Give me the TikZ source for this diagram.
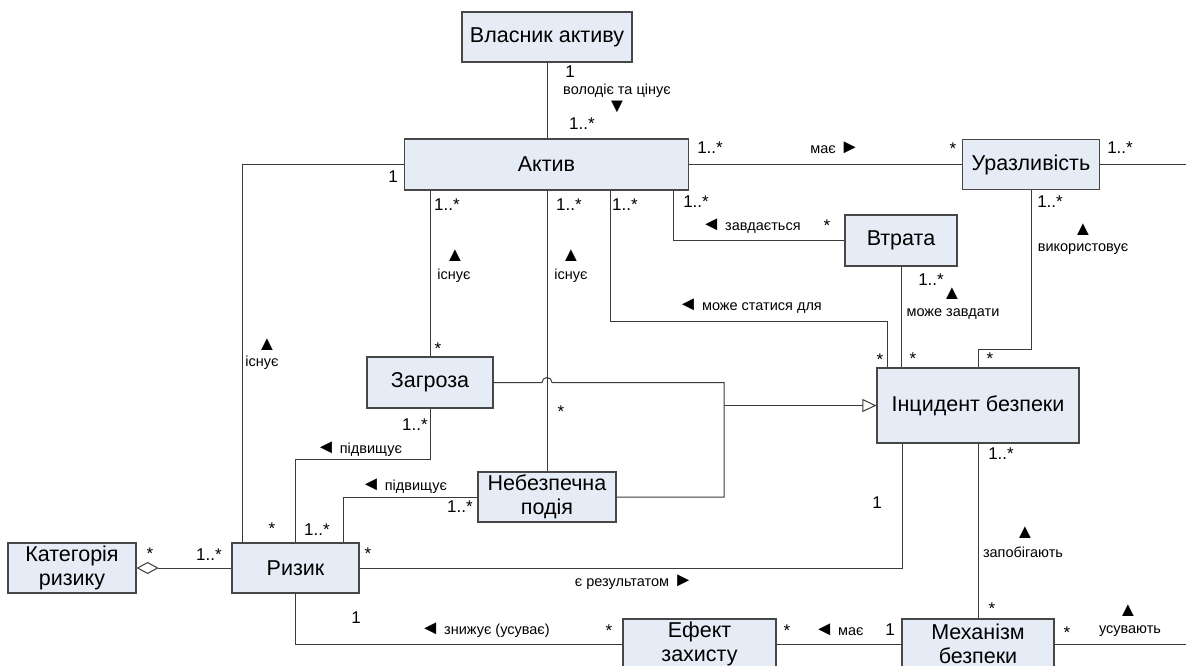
\documentclass[tikz,border=0pt]{standalone}
\usepackage{fontspec}
\setmainfont{Liberation Sans}
\usetikzlibrary{arrows.meta}
\definecolor{boxfill}{HTML}{E6ECF6}
\definecolor{boxline}{HTML}{474747}
\definecolor{wirecol}{HTML}{3A3A3A}
% reading-direction triangles, a little larger than the label text
\newcommand{\trimark}[1]{{\fontsize{20}{16}\selectfont #1}}
\begin{document}
\begin{tikzpicture}[x=1pt,y=-1pt,
  cls/.style={draw=boxline,fill=boxfill,line width=1.2pt,inner sep=0pt,align=center,
              font=\fontsize{21.5}{24}\selectfont},
  mult/.style={font=\fontsize{17}{19}\selectfont,inner sep=0pt},
  role/.style={font=\fontsize{14.5}{16}\selectfont,inner sep=0pt},
  wire/.style={draw=wirecol,line width=1pt}]
\useasboundingbox (0,0) rectangle (1186,666);

% classes
\node[cls,minimum width=170pt,minimum height=50pt] (owner) at (547,37) {Власник активу};
\node[cls,minimum width=284pt,minimum height=51pt] (asset) at (546.5,164.5) {Актив};
\node[cls,minimum width=137pt,minimum height=50pt] (vuln) at (1031,164.5) {Уразливість};
\node[cls,minimum width=112pt,minimum height=51pt] (loss) at (901,240.5) {Втрата};
\node[cls,minimum width=126pt,minimum height=51pt] (threat) at (430,382.5) {Загроза};
\node[cls,minimum width=138pt,minimum height=50pt] (event) at (547,497) {Небезпечна\\подія};
\node[cls,minimum width=202pt,minimum height=75pt] (incident) at (978,405.5) {Інцидент безпеки};
\node[cls,minimum width=128pt,minimum height=50pt] (cat) at (72,568) {Категорія\\ризику};
\node[cls,minimum width=127pt,minimum height=50pt] (risk) at (295.5,568) {Ризик};
\node[cls,minimum width=153pt,minimum height=50pt] (effect) at (699.5,644) {Ефект\\захисту};
\node[cls,minimum width=152pt,minimum height=50pt] (mech) at (978,644) {Механізм\\безпеки};

% loose ends running off to the right
\coordinate (vulnout) at (1186,164.5);
\coordinate (mechout) at (1186,644);
% joint of the generalisation
\coordinate (gen) at (724,405.5);

% associations
\draw[wire] (owner.south) -- (owner.south |- asset.north);
\draw[wire] (asset.east) -- (vuln.west);
\draw[wire] (vuln.east) -- (vulnout);
\draw[wire] (asset.west) -| ([xshift=-53.5pt]risk.north);
\draw[wire] (threat.north |- asset.south) -- (threat.north);
\draw[wire] (event.north |- asset.south) -- (event.north);
\draw[wire] ([xshift=63.5pt]asset.south) -- ++(0,131) -| ([xshift=-91pt]incident.north);
\draw[wire] ([xshift=126.5pt]asset.south) |- (loss.west);
\draw[wire] (loss.south) -- (loss.south |- incident.north);
\draw[wire] (vuln.south) -- ++(0,159) -| (incident.north);
\draw[wire] (threat.south) -- ++(0,51) -| (risk.north);
\draw[wire] (event.west) -| ([xshift=47.5pt]risk.north);
\draw[wire] (risk.east) -| ([xshift=-76pt]incident.south);
\draw[wire] (incident.south) -- (mech.north);
\draw[wire] (risk.south) |- (effect.west);
\draw[wire] (effect.east) -- (mech.west);
\draw[wire] (mech.east) -- (mechout);
\draw[wire,-{Diamond[open,length=22pt,width=12pt,line width=1pt]}] (risk.west) -- (cat.east);

% generalisation: threat and hazardous event are incidents
\draw[wire] (threat.east) -- ([xshift=-5pt]event.north |- threat.east) arc (180:360:5) -| (gen) |- (event.east);
\draw[wire,-{Triangle[open,length=14pt,width=13pt,line width=1pt]}] (gen) -- (incident.west);

% multiplicities
\node[mult] (m1) at (570,72) {1};
\node[mult] (m2) at (582,124) {1..*};
\node[mult] (m3) at (710,148) {1..*};
\node[mult] (m4) at (953,149) {*};
\node[mult] (m5) at (1120,148) {1..*};
\node[mult] (m6) at (393,177) {1};
\node[mult] (m7) at (447,205) {1..*};
\node[mult] (m8) at (569,205) {1..*};
\node[mult] (m9) at (625,205) {1..*};
\node[mult] (m10) at (696,202) {1..*};
\node[mult] (m11) at (827,226) {*};
\node[mult] (m12) at (931,280) {1..*};
\node[mult] (m13) at (1050,202) {1..*};
\node[mult] (m14) at (880,360) {*};
\node[mult] (m15) at (913,359) {*};
\node[mult] (m16) at (990,359) {*};
\node[mult] (m17) at (438,349) {*};
\node[mult] (m18) at (415,425) {1..*};
\node[mult] (m19) at (561,412) {*};
\node[mult] (m20) at (460,507) {1..*};
\node[mult] (m21) at (272,529) {*};
\node[mult] (m22) at (317,530) {1..*};
\node[mult] (m23) at (150,554) {*};
\node[mult] (m24) at (209,555) {1..*};
\node[mult] (m25) at (368,554) {*};
\node[mult] (m26) at (877,503) {1};
\node[mult] (m27) at (1001,454) {1..*};
\node[mult] (m28) at (992,609) {*};
\node[mult] (m29) at (356,618) {1};
\node[mult] (m30) at (609,631) {*};
\node[mult] (m31) at (787,631) {*};
\node[mult] (m32) at (890,630) {1};
\node[mult] (m33) at (1067,633) {*};

% association names
\node[role] (r1) at (617,91) {володіє та цінує};
\node[role] (r1a) at (617,107) {\trimark{▼}};
\node[role] (r2) at (835,148) {має \trimark{►}};
\node[role] (r3a) at (455,256) {\trimark{▲}};
\node[role] (r3) at (454,276) {існує};
\node[role] (r4a) at (571,256) {\trimark{▲}};
\node[role] (r4) at (571,276) {існує};
\node[role] (r5) at (751,226) {\trimark{◄} завдається};
\node[role] (r6) at (750,306) {\trimark{◄} може статися для};
\node[role] (r7a) at (952,294) {\trimark{▲}};
\node[role] (r7) at (953,314) {може завдати};
\node[role] (r8a) at (1083,230) {\trimark{▲}};
\node[role] (r8) at (1083,249) {використовує};
\node[role] (r9a) at (267,345) {\trimark{▲}};
\node[role] (r9) at (262,363) {існує};
\node[role] (r10) at (359,449) {\trimark{◄} підвищує};
\node[role] (r11) at (404,486) {\trimark{◄} підвищує};
\node[role] (r12a) at (1025,533) {\trimark{▲}};
\node[role] (r12) at (1023,552) {запобігають};
\node[role] (r13) at (634,582) {є результатом \trimark{►}};
\node[role] (r14) at (485,630) {\trimark{◄} знижує (усуває)};
\node[role] (r15) at (839,630) {\trimark{◄} має};
\node[role] (r16a) at (1128,611) {\trimark{▲}};
\node[role] (r16) at (1130,631) {усувають};
\end{tikzpicture}
\end{document}
